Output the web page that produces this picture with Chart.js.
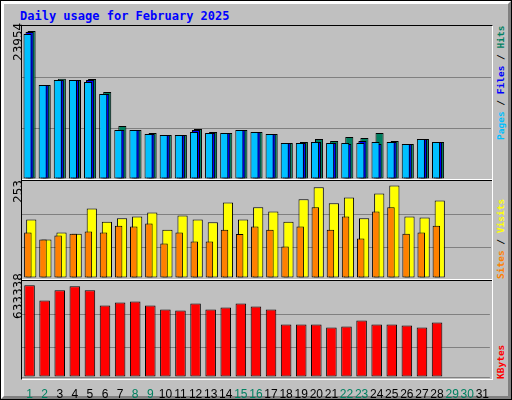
<!DOCTYPE html>
<html><head><meta charset="utf-8">
<script src="https://cdn.jsdelivr.net/npm/chart.js@4"></script>
<style>
html,body{margin:0;padding:0;background:#c0c0c0;}
#wrap{position:absolute;left:0;top:0;width:510px;height:398px;border:1px solid #000;background:#c0c0c0;overflow:hidden;}
#bevel{position:absolute;left:0;top:0;width:504px;height:392px;border-top:3px solid #fff;border-left:3px solid #fff;border-right:3px solid #808080;border-bottom:3px solid #808080;}
.t{position:absolute;font-family:"DejaVu Sans Mono",monospace;font-weight:bold;font-size:12px;white-space:nowrap;}
.r{font-size:9.5px;}
.rot{position:absolute;transform-origin:0 0;transform:rotate(-90deg);white-space:pre;}
canvas{position:absolute;}
</style></head><body>
<div id="wrap"><div id="bevel"></div>
<div class="t" style="left:19px;top:8px;color:#0000ff;">Daily usage for February 2025</div>
<div id="frame" style="position:absolute;left:20px;top:24px;width:470px;height:353px;border-top:1px solid #000;border-left:1px solid #000;border-right:1px solid #fff;border-bottom:1px solid #fff;"></div>
<div style="position:absolute;left:21px;top:178px;width:470px;height:1px;background:#fff;"></div>
<div style="position:absolute;left:21px;top:179px;width:470px;height:1px;background:#000;"></div>
<div style="position:absolute;left:21px;top:278px;width:470px;height:1px;background:#fff;"></div>
<div style="position:absolute;left:21px;top:279px;width:470px;height:1px;background:#000;"></div>
<canvas id="c1" style="left:21px;top:26px;width:469px;height:152px;"></canvas>
<canvas id="c2" style="left:21px;top:180px;width:469px;height:97px;"></canvas>
<canvas id="c3" style="left:21px;top:280px;width:469px;height:120px;"></canvas>
<div class="rot" style="left:10px;top:60px;font-family:'DejaVu Sans';font-size:12px;">23954</div>
<div class="rot" style="left:10px;top:202px;font-family:'DejaVu Sans';font-size:12px;">253</div>
<div class="rot" style="left:10px;top:318px;font-family:'DejaVu Sans';font-size:12px;">633338</div>
<div class="rot t r" style="left:494px;top:139px;"><span style="color:#00c0ff">Pages</span><span style="color:#000"> / </span><span style="color:#0000ff">Files</span><span style="color:#000"> / </span><span style="color:#008060">Hits</span></div>
<div class="rot t r" style="left:494px;top:278px;"><span style="color:#ff8000">Sites</span><span style="color:#000"> / </span><span style="color:#ffff00">Visits</span></div>
<div class="rot t r" style="left:494px;top:378px;color:#ff0000;">KBytes</div>
</div>
<script>
const days=["1","2","3","4","5","6","7","8","9","10","11","12","13","14","15","16","17","18","19","20","21","22","23","24","25","26","27","28","29","30","31"];
const weekend=["1","2","8","9","15","16","22","23","29","30"];
const hits=[23954,15214,16239,16023,16185,14081,8578,7931,7445,7121,7121,8093,7607,7445,7931,7607,7283,5827,5988,6474,6150,6798,6636,7445,6150,5665,6474,5988];
const files=[23792,15214,16023,16023,16023,13757,7931,7931,7283,7121,7121,7931,7445,7445,7931,7607,7283,5827,5827,5988,5827,5665,6150,5665,5988,5665,6474,5988];
const pages=[23468,15214,16023,16023,15699,13757,7931,7931,7283,7121,7121,7607,7445,7445,7931,7607,7283,5827,5827,5988,5827,5827,5827,5988,5988,5665,6474,5988];
const visits=[160,105,124,121,190,154,163,168,179,132,171,160,152,206,160,193,182,154,215,248,204,220,163,231,253,168,165,212];
const sites=[124,105,116,121,127,124,143,141,149,94,124,100,100,132,120,141,132,86,141,193,132,168,108,182,193,121,124,143];
const kbytes=[633338,529334,598679,626417,598679,494661,515466,522400,494661,466923,459989,508530,466923,480792,508530,487726,466923,362906,362906,362906,342102,349037,390644,362906,362906,355971,342102,376775];

Chart.defaults.animation=false;
Chart.defaults.responsive=false;
function yAxis(max,ticks){return {min:0,max:max,afterBuildTicks:s=>{s.ticks=ticks.map(v=>({value:v}));},
  ticks:{display:false},grid:{color:'#808080',drawTicks:false,lineWidth:1},border:{display:false}};}
function xAxis(show){return {display:show,grid:{display:false},border:{display:false},
  ticks:{display:show,padding:2,autoSkip:false,maxRotation:0,font:{family:'Liberation Sans',size:12},
  color:c=>weekend.includes(days[c.index])?'#008060':'#000'},
  afterFit:s=>{if(show)s.height=24;}};}
function mk(id,w,h,datasets,max,ticks,showX){
  const c=document.getElementById(id);c.width=w;c.height=h;
  new Chart(c,{type:'bar',data:{labels:days,datasets:datasets},
   options:{responsive:false,devicePixelRatio:1,layout:{padding:0},
    plugins:{legend:{display:false},tooltip:{enabled:false}},
    scales:{x:xAxis(showX),y:yAxis(max,ticks)}}});
}
const bs={borderColor:'#000',borderWidth:1,borderSkipped:false};
mk('c1',469,152,[
 Object.assign({data:hits,order:3,backgroundColor:'#008060',categoryPercentage:0.4,barPercentage:4},bs),
 Object.assign({data:files,order:2,backgroundColor:'#0000ff',categoryPercentage:0.4,barPercentage:4},bs),
 Object.assign({data:pages,order:1,backgroundColor:'#00c0ff',categoryPercentage:0.4,barPercentage:4},bs)
],24601,[0,8200,16400],false);
mk('c2',469,97,[
 Object.assign({data:visits,order:2,backgroundColor:'#ffff00',categoryPercentage:0.45,barPercentage:3},bs),
 Object.assign({data:sites,order:1,backgroundColor:'#ff8000',categoryPercentage:0.45,barPercentage:2.2},bs)
],265,[0,83,173.5],false);
mk('c3',469,120,[
 Object.assign({data:kbytes,backgroundColor:'#ff0000',categoryPercentage:1,barPercentage:0.7},bs)
],663400,[0,203412,432250],true);
</script></body></html>
